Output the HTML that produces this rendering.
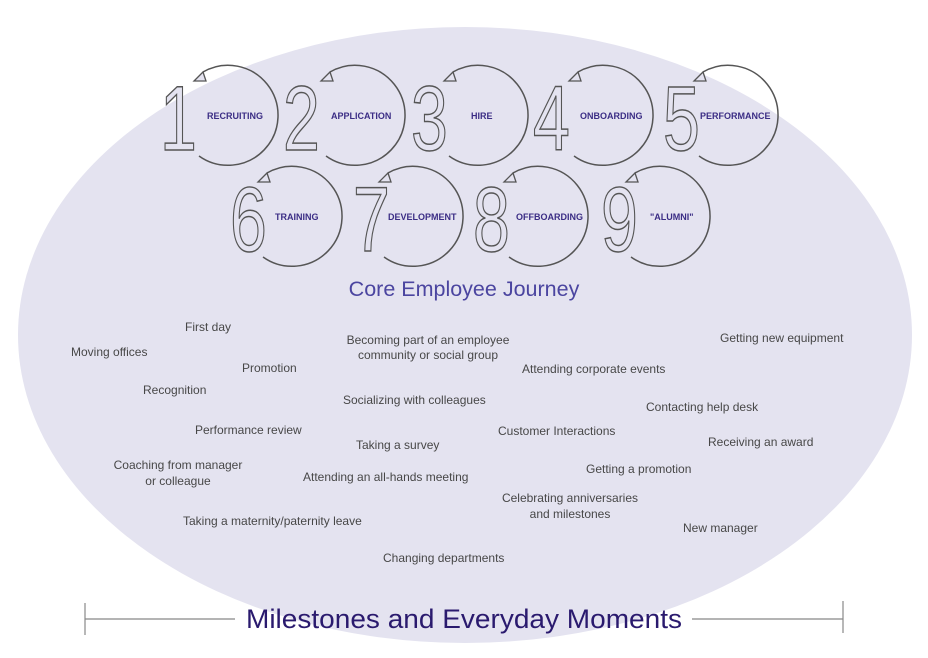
<!DOCTYPE html>
<html><head><meta charset="utf-8"><style>
html,body{margin:0;padding:0;background:#fff;}
svg{display:block;}
.m{font-family:"Liberation Sans",sans-serif;font-size:12px;fill:#474747;}
.l{font-family:"Liberation Sans",sans-serif;font-size:9px;font-weight:bold;fill:#3b2d85;}
.n{font-family:"Liberation Sans",sans-serif;font-size:92px;fill:#e4e3f0;stroke:#555;stroke-width:1.5;}
.c{fill:none;stroke:#555;stroke-width:1.5;}
</style></head><body>
<svg width="928" height="658" viewBox="0 0 928 658" xmlns="http://www.w3.org/2000/svg">
<defs>
<g id="ring">
<path class="c" d="M -25 -43 A 50 50 0 1 1 -29 41"/>
<path d="M -25 -43 l -9 9 l 12 0 z" fill="#e4e3f0" stroke="#555" stroke-width="1.3"/>
</g>
</defs>
<ellipse cx="465" cy="335" rx="447" ry="308" fill="#e4e3f0"/>

<g transform="translate(228,115)"><use href="#ring"/></g>
<text class="n" transform="translate(160,150) scale(0.72,1)">1</text>
<text class="l" x="207" y="119">RECRUITING</text>

<g transform="translate(355,115)"><use href="#ring"/></g>
<text class="n" transform="translate(283,150) scale(0.72,1)">2</text>
<text class="l" x="331" y="119">APPLICATION</text>

<g transform="translate(478,115)"><use href="#ring"/></g>
<text class="n" transform="translate(411,150) scale(0.72,1)">3</text>
<text class="l" x="471" y="119">HIRE</text>

<g transform="translate(603,115)"><use href="#ring"/></g>
<text class="n" transform="translate(533,150) scale(0.72,1)">4</text>
<text class="l" x="580" y="119">ONBOARDING</text>

<g transform="translate(728,115)"><use href="#ring"/></g>
<text class="n" transform="translate(663,150) scale(0.72,1)">5</text>
<text class="l" x="700" y="119">PERFORMANCE</text>

<g transform="translate(292,216)"><use href="#ring"/></g>
<text class="n" transform="translate(230,251) scale(0.72,1)">6</text>
<text class="l" x="275" y="220">TRAINING</text>

<g transform="translate(413,216)"><use href="#ring"/></g>
<text class="n" transform="translate(353,251) scale(0.72,1)">7</text>
<text class="l" x="388" y="220">DEVELOPMENT</text>

<g transform="translate(538,216)"><use href="#ring"/></g>
<text class="n" transform="translate(473,251) scale(0.72,1)">8</text>
<text class="l" x="516" y="220">OFFBOARDING</text>

<g transform="translate(660,216)"><use href="#ring"/></g>
<text class="n" transform="translate(601,251) scale(0.72,1)">9</text>
<text class="l" x="650" y="220">"ALUMNI"</text>

<text x="464" y="296" text-anchor="middle" font-family="Liberation Sans,sans-serif" font-size="21.5" fill="#4b45a0">Core Employee Journey</text>

<text class="m" x="185" y="331">First day</text>
<text class="m" x="71" y="356">Moving offices</text>
<text class="m" x="242" y="372">Promotion</text>
<text class="m" x="143" y="394">Recognition</text>
<text class="m" x="428" y="344" text-anchor="middle">Becoming part of an employee</text>
<text class="m" x="428" y="359" text-anchor="middle">community or social group</text>
<text class="m" x="720" y="342">Getting new equipment</text>
<text class="m" x="522" y="373">Attending corporate events</text>
<text class="m" x="343" y="404">Socializing with colleagues</text>
<text class="m" x="646" y="411">Contacting help desk</text>
<text class="m" x="195" y="434">Performance review</text>
<text class="m" x="356" y="449">Taking a survey</text>
<text class="m" x="498" y="435">Customer Interactions</text>
<text class="m" x="708" y="446">Receiving an award</text>
<text class="m" x="178" y="469" text-anchor="middle">Coaching from manager</text>
<text class="m" x="178" y="485" text-anchor="middle">or colleague</text>
<text class="m" x="586" y="473">Getting a promotion</text>
<text class="m" x="303" y="481">Attending an all-hands meeting</text>
<text class="m" x="570" y="502" text-anchor="middle">Celebrating anniversaries</text>
<text class="m" x="570" y="518" text-anchor="middle">and milestones</text>
<text class="m" x="183" y="525">Taking a maternity/paternity leave</text>
<text class="m" x="683" y="532">New manager</text>
<text class="m" x="383" y="562">Changing departments</text>

<g stroke="#888" stroke-width="1.2">
<line x1="85" y1="619" x2="235" y2="619"/>
<line x1="692" y1="619" x2="843" y2="619"/>
<line x1="85" y1="603" x2="85" y2="635"/>
<line x1="843" y1="601" x2="843" y2="633"/>
</g>
<text x="464" y="628" text-anchor="middle" font-family="Liberation Sans,sans-serif" font-size="27" fill="#2a1a6e" textLength="436" lengthAdjust="spacingAndGlyphs">Milestones and Everyday Moments</text>
</svg>
</body></html>
